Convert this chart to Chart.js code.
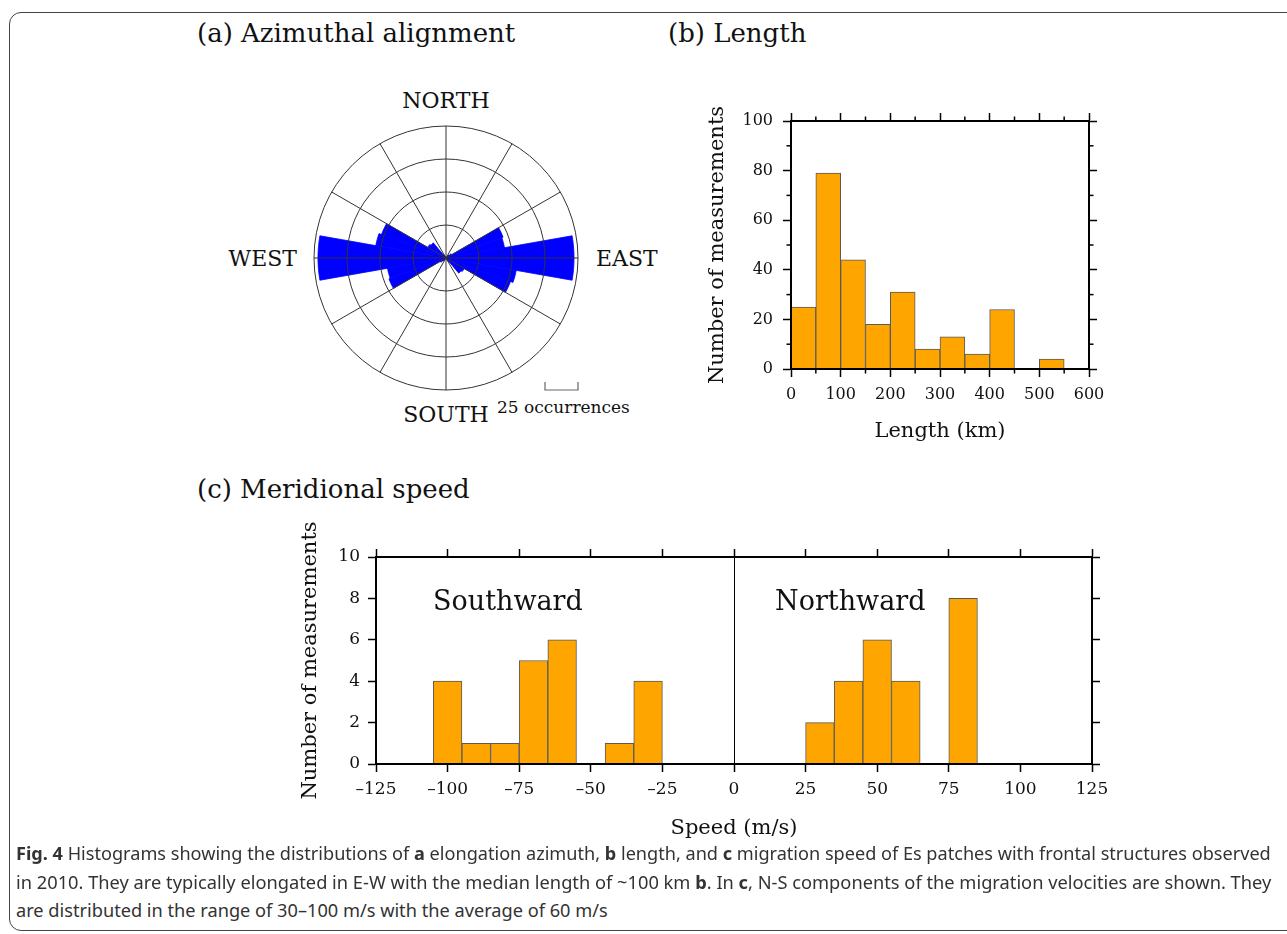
<!DOCTYPE html>
<html>
<head>
<meta charset="utf-8">
<title>Fig. 4</title>
<script src="https://cdn.jsdelivr.net/npm/chart.js@4.4.1/dist/chart.umd.min.js"></script>
<style>
  body { margin: 0; background: #fff; }
  #lienzo { position: relative; width: 1287px; height: 934px; overflow: hidden; font-family: "DejaVu Serif", serif; color: #111; }
  .marco { position: absolute; left: 9px; top: 12px; width: 1300px; height: 919px; border: 1.5px solid #444; border-radius: 12px; box-sizing: border-box; }
  .texto { position: absolute; white-space: nowrap; line-height: 1; }
  .titulo { font-size: 26px; }
  .rumbo { font-size: 22px; }
  canvas { position: absolute; }
  .pie { position: absolute; left: 16px; white-space: nowrap; font-family: "Noto Sans", sans-serif; font-size: 18px; line-height: 28px; color: #333; transform-origin: 0 50%; }
</style>
</head>
<body>
<div id="lienzo">
  <div class="marco"></div>

  <div class="texto titulo" style="left:197px; top:20px;">(a) Azimuthal alignment</div>
  <div class="texto titulo" style="left:668px; top:20px;">(b) Length</div>
  <div class="texto titulo" style="left:197px; top:476px;">(c) Meridional speed</div>

  <div class="texto rumbo" style="left:446px; top:90px; transform:translateX(-50%);">NORTH</div>
  <div class="texto rumbo" style="left:596px; top:248px;">EAST</div>
  <div class="texto rumbo" style="right:990px; top:248px;">WEST</div>
  <div class="texto rumbo" style="left:446px; top:404px; transform:translateX(-50%);">SOUTH</div>
  <div class="texto" style="left:497px; top:399px; font-size:17px;">25 occurrences</div>

  <canvas id="graficaRosa" width="304" height="304" style="left:294px; top:106px;"></canvas>
  <canvas id="graficaLongitud" width="450" height="370" style="left:680px; top:90px;"></canvas>
  <canvas id="graficaVelocidad" width="850" height="345" style="left:280px; top:500px;"></canvas>

  <div class="texto" style="left:433px; top:587px; font-size:27px;">Southward</div>
  <div class="texto" style="left:775px; top:587px; font-size:27px;">Northward</div>

  <div class="pie" id="linea1" style="top:839px;"><b>Fig. 4</b> Histograms showing the distributions of <b>a</b> elongation azimuth, <b>b</b> length, and <b>c</b> migration speed of Es patches with frontal structures observed</div>
  <div class="pie" id="linea2" style="top:868px;">in 2010. They are typically elongated in E-W with the median length of ~100 km <b>b</b>. In <b>c</b>, N-S components of the migration velocities are shown. They</div>
  <div class="pie" id="linea3" style="top:896px;">are distributed in the range of 30–100 m/s with the average of 60 m/s</div>
</div>

<script>
// (a) conteos por sector de 10 grados, desde el norte en sentido horario
const etiquetasAzimut = ["0", "10", "20", "30", "40", "50", "60", "70", "80", "90", "100", "110",
  "120", "130", "140", "150", "160", "170", "180", "190", "200", "210", "220", "230",
  "240", "250", "260", "270", "280", "290", "300", "310", "320", "330", "340", "350"];
const conteosAzimut = [0, 0, 0, 0, 3, 5, 46, 45, 97, 97, 54, 52,
  16, 15, 3, 0, 0, 0, 0, 0, 0, 0, 3, 5,
  46, 45, 97, 97, 54, 52, 16, 15, 3, 0, 0, 0];
const escalaOcurrencias = 25;

// (b) longitud, clases de 50 km
const centrosLongitud = [25, 75, 125, 175, 225, 275, 325, 375, 425, 475, 525, 575];
const conteosLongitud = [25, 79, 44, 18, 31, 8, 13, 6, 24, 0, 4, 0];

// (c) velocidad meridional, clases de 10 m/s
const centrosVelocidad = [-100, -90, -80, -70, -60, -50, -40, -30, 30, 40, 50, 60, 70, 80];
const conteosVelocidad = [4, 1, 1, 5, 6, 0, 1, 4, 2, 4, 6, 4, 0, 8];

Chart.defaults.font.family = '"DejaVu Serif", serif';
Chart.defaults.color = "#111";
Chart.defaults.animation = false;
Chart.defaults.plugins.legend.display = false;
Chart.defaults.plugins.tooltip.enabled = false;

// marcas cortas entre las marcas principales (y en los lados opuestos)
const pluginMarcasMenores = {
  id: "marcasMenores",
  afterDraw(chart, args, opts) {
    const ctx = chart.ctx;
    const area = chart.chartArea;
    ctx.save();
    ctx.strokeStyle = "#000";
    ctx.lineWidth = 1.5;
    Object.values(chart.scales).forEach((escala) => {
      const paso = opts[escala.axis];
      if (!paso) return;
      for (let v = escala.min + paso; v < escala.max; v += paso * 2) {
        const p = escala.getPixelForValue(v);
        ctx.beginPath();
        if (escala.position === "left") { ctx.moveTo(area.left, p); ctx.lineTo(area.left - opts.largo, p); }
        if (escala.position === "right") { ctx.moveTo(area.right, p); ctx.lineTo(area.right + opts.largo, p); }
        if (escala.position === "top") { ctx.moveTo(p, area.top); ctx.lineTo(p, area.top - opts.largo); }
        if (escala.position === "bottom") { ctx.moveTo(p, area.bottom); ctx.lineTo(p, area.bottom + opts.largo); }
        ctx.stroke();
      }
    });
    ctx.restore();
  }
};

// barra de escala "25 occurrences" bajo el circulo
const pluginBarraEscala = {
  id: "barraEscala",
  afterDraw(chart) {
    const r = chart.scales.r;
    const ctx = chart.ctx;
    const x1 = r.xCenter + r.getDistanceFromCenterForValue(r.max - escalaOcurrencias);
    const x2 = r.xCenter + r.getDistanceFromCenterForValue(r.max);
    const y = r.yCenter + r.getDistanceFromCenterForValue(r.max);
    ctx.save();
    ctx.strokeStyle = "#666";
    ctx.lineWidth = 1.2;
    ctx.beginPath();
    ctx.moveTo(x1, y - 8);
    ctx.lineTo(x1, y);
    ctx.lineTo(x2, y);
    ctx.lineTo(x2, y - 8);
    ctx.stroke();
    ctx.restore();
  }
};

function configurarRosa() {
  return {
    type: "polarArea",
    data: {
      labels: etiquetasAzimut,
      // el borde del mismo color tapa las rayas blancas entre sectores
      datasets: [{ data: conteosAzimut, backgroundColor: "#0000ff", borderColor: "#0000ff", borderWidth: 0.8 }]
    },
    options: {
      responsive: false,
      layout: { padding: 20 },
      scales: {
        r: {
          min: 0,
          max: 100,
          startAngle: 0,
          ticks: { stepSize: escalaOcurrencias, display: false },
          grid: { circular: true, color: "#333", lineWidth: 1, z: 1 },
          angleLines: {
            display: true,
            lineWidth: 1,
            color: (c) => (c.index % 3 === 0 ? "#333" : "rgba(0,0,0,0)")
          },
          pointLabels: { display: false }
        }
      }
    },
    plugins: [pluginBarraEscala]
  };
}

// eje lineal con marcas hacia afuera; tam = ancho/alto fijo de la caja del eje
function eje(posicion, min, max, paso, tam, extra) {
  const e = {
    type: "linear",
    position: posicion,
    min: min,
    max: max,
    offset: false,
    ticks: { stepSize: paso, display: false },
    grid: { offset: false, drawOnChartArea: false, drawTicks: true, tickLength: 8, tickColor: "#000", tickWidth: 1.5 },
    border: { display: true, color: "#000", width: 2, z: 1 },
    afterFit: (escala) => {
      if (posicion === "left" || posicion === "right") escala.width = tam;
      else escala.height = tam;
    }
  };
  if (extra) {
    Object.assign(e.ticks, extra.ticks || {});
    Object.assign(e.grid, extra.grid || {});
    if (extra.title) e.title = extra.title;
  }
  return e;
}

function configurarHistograma(centros, conteos, escalas, menores) {
  return {
    type: "bar",
    data: {
      datasets: [{
        data: centros.map((c, i) => ({ x: c, y: conteos[i] })),
        backgroundColor: "#ffa500",
        borderColor: "#5a5a5a",
        borderWidth: 1,
        barPercentage: 1,
        categoryPercentage: 1
      }]
    },
    options: {
      responsive: false,
      layout: { padding: 0 },
      scales: escalas,
      plugins: { marcasMenores: menores }
    },
    plugins: [pluginMarcasMenores]
  };
}

const configLongitud = configurarHistograma(centrosLongitud, conteosLongitud, {
  x: eje("bottom", 0, 600, 100, 91, {
    ticks: { display: true, padding: 8, font: { size: 16 } },
    title: { display: true, text: "Length (km)", font: { size: 21 }, padding: { top: 0, bottom: 16 } }
  }),
  x2: eje("top", 0, 600, 100, 31),
  y: eje("left", 0, 100, 20, 111, {
    ticks: { display: true, padding: 10, font: { size: 16 } },
    title: { display: true, text: "Number of measurements", font: { size: 21 }, padding: { top: 25, bottom: 0 } }
  }),
  y2: eje("right", 0, 100, 20, 41)
}, { x: 50, y: 10, largo: 4.5 });

const signo = (v) => (v < 0 ? "–" + Math.abs(v) : String(v));

const configVelocidad = configurarHistograma(centrosVelocidad, conteosVelocidad, {
  x: eje("bottom", -125, 125, 25, 81, {
    ticks: { display: true, padding: 7, font: { size: 17 }, callback: signo },
    grid: { drawOnChartArea: true, lineWidth: 1, color: (c) => (c.tick && c.tick.value === 0 ? "#000" : "rgba(0,0,0,0)") },
    title: { display: true, text: "Speed (m/s)", font: { size: 21 }, padding: { top: 0, bottom: 4 } }
  }),
  x2: eje("top", -125, 125, 25, 57),
  y: eje("left", 0, 10, 2, 96, {
    ticks: { display: true, padding: 8, font: { size: 17 } },
    title: { display: true, text: "Number of measurements", font: { size: 21 }, padding: { top: 18, bottom: 0 } }
  }),
  y2: eje("right", 0, 10, 2, 38)
}, {});

new Chart(document.getElementById("graficaRosa"), configurarRosa());
new Chart(document.getElementById("graficaLongitud"), configLongitud);
new Chart(document.getElementById("graficaVelocidad"), configVelocidad);

// ajustar el pie de figura al ancho justificado del original
const anchoPie = 1255;
const l1 = document.getElementById("linea1");
const l2 = document.getElementById("linea2");
const l3 = document.getElementById("linea3");
const f1 = anchoPie / l1.offsetWidth;
const f2 = anchoPie / l2.offsetWidth;
l1.style.transform = "scaleX(" + f1 + ")";
l2.style.transform = "scaleX(" + f2 + ")";
l3.style.transform = "scaleX(" + (f1 + f2) / 2 + ")";
</script>
</body>
</html>
